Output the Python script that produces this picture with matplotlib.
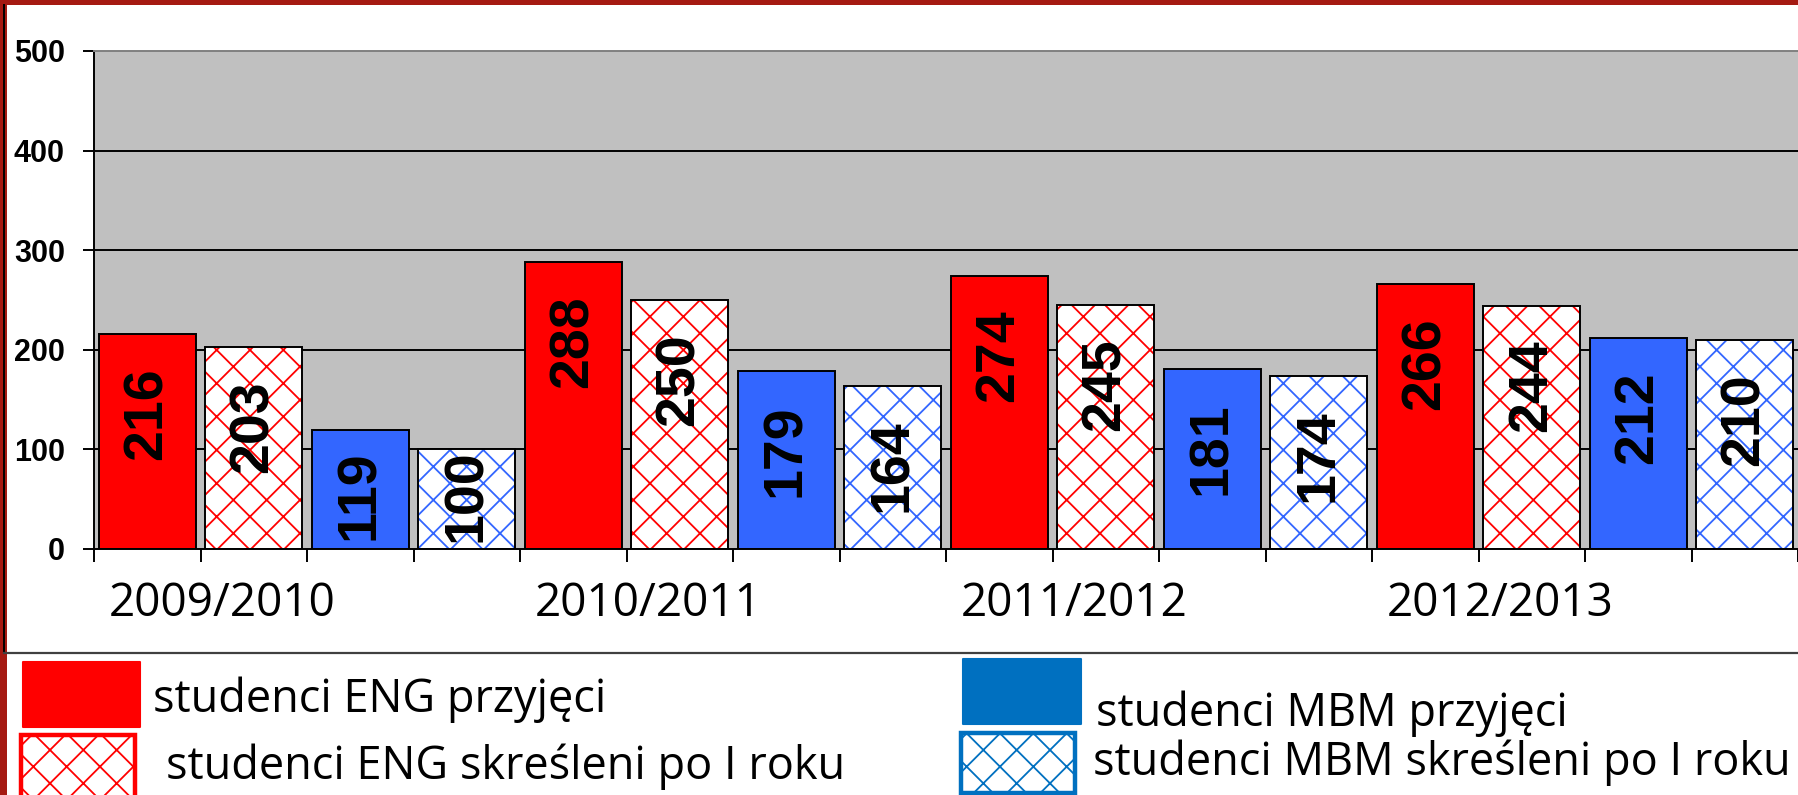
import matplotlib
matplotlib.use('Agg')
import matplotlib.pyplot as plt
from matplotlib.patches import Rectangle
from matplotlib.lines import Line2D
from matplotlib.transforms import blended_transform_factory
import numpy as np

years = ['2009/2010', '2010/2011', '2011/2012', '2012/2013']
eng_admitted = [216, 288, 274, 266]
eng_removed = [203, 250, 245, 244]
mbm_admitted = [119, 179, 181, 212]
mbm_removed = [100, 164, 174, 210]
legend_labels = ['studenci ENG przyjęci', 'studenci ENG skreśleni po I roku',
                 'studenci MBM przyjęci', 'studenci MBM skreśleni po I roku']

RED = '#FF0000'
BLUE = '#3366FF'
BLUE_LEG = '#0070C0'
FRAME = '#A51A12'

W, H = 1798, 795
plt.rcParams['font.family'] = ['Liberation Sans', 'DejaVu Sans']
plt.rcParams['hatch.linewidth'] = 1.3


def fx(px):
    return px / W


def fy(py):
    return 1 - py / H


fig = plt.figure(figsize=(W / 100, H / 100), dpi=100)
ax = fig.add_axes([fx(94), fy(549), 1 - fx(94), fy(51) - fy(549)])
ax.set_facecolor('#C0C0C0')
ax.set_xlim(-0.5, -0.5 + (W - 94) / 107)
ax.set_ylim(0, 500)

for y in range(100, 500, 100):
    ax.axhline(y, color='black', lw=1.4, zorder=1)

series = [(eng_admitted, RED, None), (eng_removed, RED, 'x'),
          (mbm_admitted, BLUE, None), (mbm_removed, BLUE, 'x')]
group = np.arange(len(years)) * 4
width = 0.91
for s, (vals, col, hatch) in enumerate(series):
    x = group + s
    if hatch:
        ax.bar(x, vals, width, color='white', edgecolor=col, hatch=hatch, linewidth=0, zorder=2)
        ax.bar(x, vals, width, fill=False, edgecolor='black', linewidth=1.4, zorder=3)
    else:
        ax.bar(x, vals, width, color=col, edgecolor='black', linewidth=1.4, zorder=2)
    for xi, v in zip(x, vals):
        ax.text(xi, max(v - 80, 54), str(v), rotation=90, ha='center', va='center',
                fontsize=40, fontweight='bold', zorder=4)

ax.set_yticks(range(0, 501, 100))
ax.tick_params(axis='y', length=8, width=1.4, pad=13, labelsize=22)
for lab in ax.get_yticklabels():
    lab.set_fontweight('bold')
ax.set_xticks(np.arange(-0.5, 16, 1))
ax.tick_params(axis='x', length=9.4, width=1.4, labelbottom=False)
for side in ['left', 'bottom']:
    ax.spines[side].set_linewidth(1.4)
ax.spines['top'].set_color('#808080')
ax.spines['top'].set_linewidth(1.4)
ax.spines['right'].set_visible(False)

trans = blended_transform_factory(ax.transData, fig.transFigure)
for g, yr in enumerate(years):
    ax.text(group[g] + 1.5 - 0.8, fy(616), yr, transform=trans, ha='center', va='baseline',
            fontsize=33, family='Open Sans')

# slide frame and chart box
fig.add_artist(Rectangle((0, 0), fx(7), 1, transform=fig.transFigure, color=FRAME, lw=0))
fig.add_artist(Rectangle((0, fy(5)), 1, fy(0) - fy(5), transform=fig.transFigure, color=FRAME, lw=0))
fig.add_artist(Line2D([fx(3.5), fx(3.5)], [fy(653), fy(5)], color='black', lw=1.4))
fig.add_artist(Line2D([fx(3.5), 1], [fy(653), fy(653)], color='#404040', lw=1.6))

# legend (drawn by hand, as in the slide)
leg_boxes = [(23, 662, 140, 727, RED, None), (21, 735, 135, 802, RED, 'x'),
             (963, 659, 1081, 724, BLUE_LEG, None), (961, 733, 1075, 793, BLUE_LEG, 'x')]
leg_text = [(153, 712), (166, 779), (1096, 726), (1093, 775)]
for (x0, y0, x1, y1, col, hatch), (tx, ty), lab in zip(leg_boxes, leg_text, legend_labels):
    if hatch:
        p = Rectangle((fx(x0), fy(y1)), fx(x1) - fx(x0), fy(y0) - fy(y1), transform=fig.transFigure,
                      facecolor='white', edgecolor=col, hatch=hatch, lw=3.2)
    else:
        p = Rectangle((fx(x0), fy(y1)), fx(x1) - fx(x0), fy(y0) - fy(y1), transform=fig.transFigure,
                      facecolor=col, edgecolor=col, lw=1.5, joinstyle='round')
    fig.add_artist(p)
    fig.text(fx(tx), fy(ty), lab, ha='left', va='baseline', fontsize=32.5, family='Open Sans')

fig.savefig('out.png', dpi=100)
